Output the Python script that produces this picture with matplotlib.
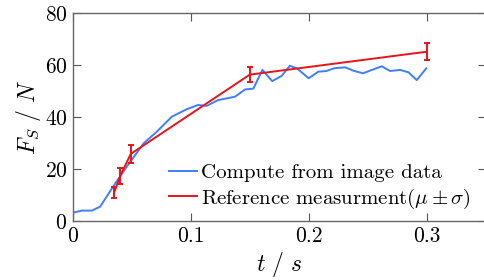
import matplotlib
matplotlib.use("Agg")
import matplotlib.pyplot as plt
from matplotlib.lines import Line2D

plt.rcParams['font.family'] = ['cmr10', 'DejaVu Serif']
plt.rcParams['mathtext.fontset'] = 'cm'
plt.rcParams['axes.formatter.use_mathtext'] = True

t_img = [0.0, 0.0074, 0.016, 0.023, 0.034, 0.0456, 0.060, 0.071, 0.0838, 0.0965,
         0.106, 0.1135, 0.123, 0.1375, 0.146, 0.153, 0.1607, 0.169, 0.177, 0.184,
         0.19, 0.2, 0.208, 0.215, 0.222, 0.231, 0.238, 0.246, 0.2535, 0.262,
         0.269, 0.2776, 0.2846, 0.2917, 0.2997]
F_img = [3.2, 4.0, 4.0, 5.5, 13.2, 20.9, 29.9, 34.3, 40.1, 43.0,
         44.6, 44.3, 46.5, 47.8, 50.6, 50.9, 58.1, 53.8, 55.8, 59.7,
         58.7, 54.9, 57.4, 57.7, 58.8, 59.1, 57.8, 56.8, 58.1, 59.5,
         57.7, 58.1, 57.2, 54.2, 58.7]

t_ref = [0.035, 0.04, 0.049, 0.15, 0.30]
F_ref = [11.0, 17.3, 25.8, 56.3, 65.1]
F_err = [2.0, 3.0, 3.6, 2.8, 3.2]

x_ticks = [0, 0.1, 0.2, 0.3]
x_ticklabels = ['0', '0.1', '0.2', '0.3']
y_ticks = [0, 20, 40, 60, 80]

blue = '#3d7fff'
red = '#e8141b'

fig = plt.figure(figsize=(4.84, 2.80), dpi=100)
ax = fig.add_axes([73/484, 1-221/280, (485.5-73)/484, (221-13)/280])

ax.plot(t_img, F_img, color=blue, lw=1.4)
ax.errorbar(t_ref, F_ref, yerr=F_err, color=red, lw=1.4, capsize=2.5,
            elinewidth=1.4, capthick=1.4)

ax.set_xlim(0, 0.35)
ax.set_ylim(0, 80)
ax.set_xticks(x_ticks)
ax.set_xticklabels(x_ticklabels)
ax.set_yticks(y_ticks)
ax.tick_params(direction='in', length=6, width=0.8, color='#555555', labelsize=15.5,
               top=True, right=True, pad=4)
for s in ax.spines.values():
    s.set_color('#666666')
    s.set_linewidth(1.0)

ax.set_xlabel(r'$t\ /\ s$', fontsize=17, labelpad=3)
ax.set_ylabel(r'$F_S\ /\ N$', fontsize=17, labelpad=1)

handles = [Line2D([], [], color=blue, lw=1.4), Line2D([], [], color=red, lw=1.4)]
labels = ['Compute from image data', r'Reference measurment($\mu\pm\sigma$)']
ax.legend(handles, labels, loc='lower right', frameon=False, fontsize=15,
          handlelength=1.35, handletextpad=0.2, borderaxespad=0.2, labelspacing=0.2,
          bbox_to_anchor=(0.995, -0.01))

fig.savefig('out.png', dpi=100)
